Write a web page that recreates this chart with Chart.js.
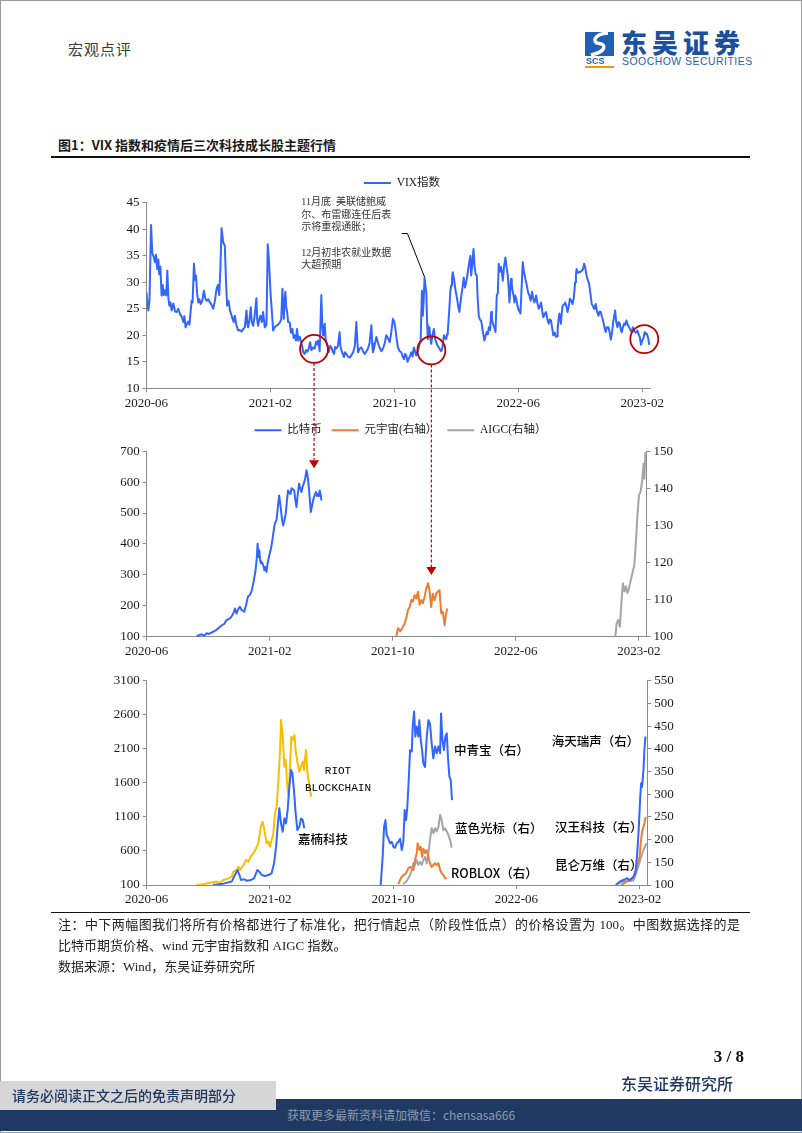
<!DOCTYPE html>
<html>
<head>
<meta charset="utf-8">
<script src="https://cdn.jsdelivr.net/npm/chart.js@4.4.0/dist/chart.umd.min.js"></script>
<style>
  body { margin: 0; background: #fff; }
  #page { position: relative; width: 802px; height: 1133px; overflow: hidden; background: #fff;
          font-family: "Noto Sans CJK SC", sans-serif; }
  #page canvas, #page div { position: absolute; }
  .frame { left: 0; top: 0; width: 800px; height: 1131px; border: 1px solid #9a9a9a; }
  .hdr { left: 68px; top: 39px; font-size: 15px; line-height: 20px; color: #3a3a3a; letter-spacing: 1px; }
  .logo-cn { left: 621px; top: 28px; font-size: 26px; line-height: 28px; font-weight: 900; color: #1d4f9f; letter-spacing: 5px; }
  .logo-en { left: 622px; top: 55px; font-family: "Liberation Sans", sans-serif; font-size: 10.5px; line-height: 12px; color: #2b5fae; letter-spacing: 0.45px; }
  .fig-title { left: 58px; top: 136px; font-size: 13px; line-height: 18px; font-weight: 700; color: #1a1a1a; }
  .rule { left: 51px; width: 699px; background: #111; }
  .note { left: 58px; width: 682px; font-size: 13px; line-height: 18px; color: #222;
          font-family: "Liberation Serif", "Noto Sans CJK SC", serif; }
  .page-no { left: 690px; width: 54px; top: 1047px; text-align: right; font-family: "Liberation Serif", serif; font-weight: 700; font-size: 17px; color: #111; }
  .house { left: 621px; top: 1072px; font-size: 16px; line-height: 22px; color: #1f3864; font-weight: 500; }
  .band { left: 0; top: 1099px; width: 802px; height: 32px; background: #1e3a63; }
  .band-text { left: 0; width: 802px; top: 1107px; text-align: center; font-size: 12px; line-height: 16px; color: #8e9bb0; }
  .disclaimer { left: 0; top: 1081px; width: 276px; height: 29px; background: #d6d6d6; }
  .disclaimer-text { left: 12px; top: 1081px; font-size: 14px; line-height: 29px; color: #1f3864; font-weight: 500; }
</style>
</head>
<body>
<div id="page">
  <div class="frame"></div>
  <div class="hdr">宏观点评</div>
  <canvas id="logoIcon" width="34" height="38" style="left:584px;top:31px"></canvas>
  <div class="logo-cn">东吴证券</div>
  <div class="logo-en">SOOCHOW SECURITIES</div>
  <div class="fig-title">图1：VIX 指数和疫情后三次科技成长股主题行情</div>
  <div class="rule" style="top:156px;height:2px"></div>

  <canvas id="vixChart" width="640" height="252" style="left:80px;top:166px"></canvas>
  <canvas id="cryptoChart" width="640" height="258" style="left:80px;top:408px"></canvas>
  <canvas id="stockChart" width="640" height="252" style="left:80px;top:662px"></canvas>
  <canvas id="overlay" width="802" height="1133" style="left:0;top:0;pointer-events:none"></canvas>

  <div class="rule" style="top:912px;height:1px"></div>
  <div class="note" style="top:916px;text-align:justify;text-align-last:justify">注：中下两幅图我们将所有价格都进行了标准化，把行情起点（阶段性低点）的价格设置为 100。中图数据选择的是</div>
  <div class="note" style="top:937px">比特币期货价格、wind 元宇宙指数和 AIGC 指数。</div>
  <div class="note" style="top:958px">数据来源：Wind，东吴证券研究所</div>

  <div class="page-no">3 / 8</div>
  <div class="house">东吴证券研究所</div>
  <div class="band"></div>
  <div class="band-text">获取更多最新资料请加微信：chensasa666</div>
  <div class="disclaimer"></div>
  <div class="disclaimer-text">请务必阅读正文之后的免责声明部分</div>
</div>

<script>
// x values are months counted from 2020-06
var monthTicks = [0, 8, 16, 24, 32];
var monthLabels = ['2020-06', '2021-02', '2021-10', '2022-06', '2023-02'];

// top chart: VIX index
var vix = [[0,28.1],[0.12,24.7],[0.2,26.5],[0.3,40.8],[0.38,35.5],[0.45,35],[0.55,33.8],[0.62,35.2],[0.7,32.5],[0.77,34.3],[0.83,31.5],[0.9,33],[0.98,27.5],[1.05,29.5],[1.12,27.6],[1.2,28.5],[1.28,27.5],[1.35,32.2],[1.42,27],[1.48,25.6],[1.55,26.2],[1.63,24.7],[1.74,26],[1.85,24.5],[1.95,24.4],[2.06,25],[2.17,24],[2.28,23.5],[2.38,22.5],[2.45,23.6],[2.53,21.5],[2.62,22.2],[2.7,22.6],[2.78,22],[2.85,24.4],[2.92,26.5],[2.98,26.2],[3.07,33.5],[3.14,30.5],[3.2,31.3],[3.27,28],[3.35,26.2],[3.42,26.8],[3.5,25.9],[3.6,26.5],[3.71,28.4],[3.8,27],[3.88,26.5],[4,26.8],[4.1,26.2],[4.2,25.8],[4.31,25],[4.42,26.5],[4.53,28.8],[4.62,29.5],[4.7,27.6],[4.78,33],[4.85,40.2],[4.92,38.5],[4.96,37.5],[5.06,36.9],[5.14,30],[5.21,25.6],[5.3,26.5],[5.39,24.7],[5.47,24],[5.56,23.1],[5.64,22.5],[5.71,23.7],[5.8,22],[5.92,20.9],[6.02,21],[6.14,20.7],[6.25,21.2],[6.35,21.5],[6.46,24.7],[6.52,22],[6.57,21.5],[6.65,23],[6.74,25.3],[6.8,22.5],[6.89,21.8],[6.98,23.5],[7.1,27],[7.15,23],[7.21,21.8],[7.28,23],[7.36,23.7],[7.45,22.5],[7.53,24.4],[7.64,21.5],[7.75,22],[7.83,37.2],[7.9,34.5],[7.96,31],[8.02,27.5],[8.07,25.6],[8.18,20.9],[8.28,21.5],[8.39,21.8],[8.5,22],[8.61,22.4],[8.7,23],[8.78,28.8],[8.83,25],[8.87,23.1],[8.92,26.5],[8.97,28.2],[9.02,25.5],[9.08,24.4],[9.15,22.5],[9.25,22.4],[9.33,20.5],[9.42,21.2],[9.5,19.5],[9.57,20],[9.65,19],[9.72,21.2],[9.8,19],[9.9,19.7],[10,18.5],[10.05,18],[10.12,16.8],[10.22,16.5],[10.3,17.2],[10.38,16.9],[10.48,17.5],[10.56,18.7],[10.65,17.2],[10.75,17.7],[10.86,17.5],[10.95,18.8],[11.02,18.3],[11.08,19],[11.18,17],[11.29,27.6],[11.35,22],[11.4,20],[11.46,21.5],[11.51,22.2],[11.56,19.5],[11.61,18.7],[11.7,17.8],[11.77,16.8],[11.86,18],[11.94,17.7],[12.02,17],[12.11,16.5],[12.18,17.8],[12.26,17.5],[12.36,18],[12.47,20.6],[12.52,18],[12.58,17.2],[12.67,16.5],[12.75,15.9],[12.82,16.8],[12.9,16.5],[13,16],[13.12,15.8],[13.22,16.2],[13.34,16.8],[13.45,18],[13.55,22.5],[13.6,19.5],[13.66,16.8],[13.76,17.5],[13.87,17.7],[13.98,17],[14.09,16.5],[14.2,17],[14.3,17.5],[14.4,18.5],[14.52,21.9],[14.57,18.5],[14.62,16.8],[14.72,18],[14.84,19.7],[14.95,18.5],[15.05,17.7],[15.16,17],[15.27,17.5],[15.38,18.5],[15.48,20],[15.58,19.5],[15.7,18.7],[15.8,20.5],[15.91,23.1],[16,22.5],[16.06,21.5],[16.14,19.5],[16.23,17.7],[16.34,17],[16.45,16.8],[16.54,16],[16.62,15.5],[16.7,16.5],[16.77,16.2],[16.85,15],[16.92,15.5],[17,16],[17.09,16.8],[17.18,16],[17.26,17.7],[17.34,17],[17.41,16.2],[17.52,17],[17.63,18.4],[17.7,19],[17.78,28.4],[17.84,23.7],[17.9,27],[17.95,30.9],[18,29.5],[18.06,28.2],[18.12,22],[18.16,19.3],[18.22,20.5],[18.27,21.5],[18.32,19.5],[18.38,18.4],[18.46,20],[18.55,21.2],[18.62,19.5],[18.7,18.7],[18.8,18],[18.92,17.5],[19,17],[19.07,17.2],[19.14,18.5],[19.2,20],[19.27,19.5],[19.35,19.3],[19.4,20.2],[19.45,20.6],[19.55,25],[19.62,28.5],[19.67,29.4],[19.72,30.5],[19.77,31.9],[19.83,31],[19.88,30],[19.95,28.5],[20.05,26.9],[20.12,25.5],[20.2,24.4],[20.28,26.5],[20.36,28.2],[20.42,29.5],[20.48,30.9],[20.56,29],[20.64,30],[20.74,31.9],[20.82,33.5],[20.91,35],[20.96,31.3],[21.02,33],[21.11,36.3],[21.18,33],[21.24,31.6],[21.32,31.3],[21.38,27],[21.45,23.7],[21.52,23],[21.6,22.8],[21.7,21],[21.81,19],[21.9,20],[21.97,20.6],[22.03,20.2],[22.1,21.5],[22.18,21],[22.25,24.4],[22.3,23],[22.36,22.2],[22.45,21.5],[22.53,20.6],[22.61,27.5],[22.68,28],[22.74,33.5],[22.8,32],[22.89,32.9],[22.95,31.5],[23,30.3],[23.08,33],[23.17,34.7],[23.24,33],[23.32,31.3],[23.38,29],[23.43,26.2],[23.48,28.5],[23.53,30.6],[23.58,29.5],[23.64,28.2],[23.7,27.5],[23.75,26.2],[23.8,27.5],[23.86,27],[23.95,25.5],[24.03,24.7],[24.08,24.5],[24.14,24.1],[24.2,28],[24.29,33.8],[24.34,32.5],[24.39,31.6],[24.47,30.5],[24.55,29.4],[24.64,28],[24.72,27.5],[24.8,26.5],[24.89,28.2],[24.96,27],[25.04,26.2],[25.1,26.8],[25.15,27.5],[25.24,26],[25.32,25],[25.4,25.5],[25.47,26.2],[25.55,24.5],[25.62,23.4],[25.7,24],[25.79,24.4],[25.88,23],[25.96,22.2],[26.04,23],[26.11,22.8],[26.18,21.5],[26.26,20],[26.35,20.5],[26.43,19.7],[26.5,19.8],[26.54,21.2],[26.6,23],[26.65,24.1],[26.7,23.5],[26.75,22.2],[26.8,24],[26.86,25.6],[26.95,25.8],[27.03,26.2],[27.1,25.5],[27.18,24.4],[27.26,25.5],[27.33,26.9],[27.42,26.5],[27.5,25.9],[27.58,27],[27.67,30],[27.72,31.5],[27.76,32.5],[27.85,31.8],[27.93,31.9],[28.02,32],[28.1,32.2],[28.18,32.5],[28.25,33.5],[28.32,32.8],[28.4,31.3],[28.48,30.5],[28.57,29.7],[28.65,28],[28.74,25.9],[28.82,25.5],[28.89,25],[28.95,25.5],[29,25.9],[29.08,24.5],[29.17,23.7],[29.25,24.5],[29.32,24.4],[29.4,23.5],[29.47,22.8],[29.56,21.5],[29.64,20.6],[29.72,21.5],[29.82,21.5],[29.9,20.5],[29.97,19.2],[30.05,20.5],[30.12,22.4],[30.18,23.5],[30.25,24.7],[30.32,22.5],[30.4,21.5],[30.48,22.5],[30.55,22.2],[30.62,21],[30.68,20.6],[30.75,21.5],[30.83,22.2],[30.9,22],[30.98,22.8],[31.06,22],[31.15,21.5],[31.24,21],[31.32,20.6],[31.4,21.5],[31.47,20.9],[31.58,20.5],[31.69,20.9],[31.76,20.2],[31.84,19.7],[31.92,18.2],[32,19],[32.08,19.5],[32.16,20.6],[32.24,20.2],[32.3,20.3],[32.38,19.5],[32.45,18.2]];

// middle chart: normalised to 100 at each rally's start
var bitcoin = [[3.24,100],[3.4,105],[3.57,108],[3.7,104],[3.8,106],[3.9,111],[4.05,109],[4.2,113],[4.33,116],[4.5,121],[4.62,126],[4.76,132],[4.9,137],[5.05,142],[5.19,154],[5.3,156],[5.41,159],[5.52,166],[5.63,175],[5.74,191],[5.84,175],[5.95,189],[6.06,197],[6.17,186],[6.25,184],[6.34,181],[6.45,200],[6.58,229],[6.69,234],[6.8,245],[6.9,265],[6.97,283],[7.08,315],[7.16,355],[7.21,401],[7.27,358],[7.32,380],[7.38,345],[7.43,337],[7.5,340],[7.58,331],[7.65,315],[7.71,325],[7.79,310],[7.86,337],[8,369],[8.1,390],[8.17,412],[8.25,440],[8.33,466],[8.44,477],[8.53,520],[8.61,557],[8.71,519],[8.8,480],[8.87,460],[8.95,475],[9.04,498],[9.12,540],[9.19,573],[9.27,565],[9.35,562],[9.42,580],[9.48,578],[9.59,573],[9.66,545],[9.74,519],[9.82,560],[9.91,595],[9.98,580],[10.06,568],[10.14,585],[10.21,595],[10.3,610],[10.39,638],[10.45,625],[10.52,595],[10.6,550],[10.67,503],[10.74,520],[10.82,541],[10.9,555],[11,568],[11.07,555],[11.14,562],[11.2,555],[11.25,573],[11.31,560],[11.36,541]];
var metaverse = [[16.23,100.2],[16.34,102.3],[16.49,101.5],[16.62,102.3],[16.77,103.6],[16.88,105],[16.99,107.2],[17.1,108],[17.21,109.9],[17.31,109.5],[17.42,111.2],[17.53,110.3],[17.64,112.1],[17.75,108.6],[17.86,109.9],[17.96,109],[18.07,110.8],[18.18,113],[18.29,114.4],[18.39,112.5],[18.5,108],[18.61,111.6],[18.72,109.9],[18.83,111.6],[18.93,112.1],[19.04,112.5],[19.15,106.3],[19.26,106.7],[19.37,103.1],[19.47,106.3],[19.54,107.6]];
var aigc = [[30.47,100],[30.56,103.6],[30.66,104.5],[30.77,102.7],[30.86,108.5],[30.96,114.4],[31.07,112.2],[31.16,113.6],[31.26,111.8],[31.36,113.1],[31.46,114.9],[31.56,116.7],[31.71,119.3],[31.81,125.5],[31.91,132.7],[32.01,138.1],[32.11,139],[32.21,141.7],[32.31,146.6],[32.36,142.6],[32.43,149.7]];

// bottom chart: single stocks
var riot = [[3.24,100],[3.68,110],[4.11,134],[4.54,150],[4.76,134],[4.98,173],[5.3,197],[5.52,222],[5.62,295],[5.84,320],[5.95,369],[6.06,320],[6.28,393],[6.45,467],[6.6,442],[6.75,516],[6.92,565],[7.1,638],[7.25,712],[7.4,956],[7.53,1029],[7.64,907],[7.79,712],[7.9,736],[8.01,663],[8.11,760],[8.22,858],[8.33,1152],[8.44,1250],[8.55,1641],[8.66,2082],[8.72,2522],[8.83,2277],[8.94,1837],[9.02,1935],[9.13,1543],[9.22,1396],[9.3,1837],[9.39,2277],[9.48,2228],[9.59,2301],[9.69,2032],[9.8,1886],[9.91,1763],[10.02,1837],[10.13,1910],[10.21,1788],[10.34,2082],[10.43,1763],[10.56,1543],[10.69,1396]];
var canaan = [[4.3,100],[4.98,120],[5.52,150],[5.73,247],[5.9,320],[6.02,247],[6.12,173],[6.32,183],[6.53,163],[6.75,173],[6.97,197],[7.18,320],[7.31,295],[7.47,247],[7.68,232],[7.9,247],[8.11,271],[8.27,418],[8.4,663],[8.5,956],[8.61,1226],[8.72,1005],[8.83,883],[8.94,1078],[9.04,1005],[9.15,1201],[9.26,1543],[9.37,1788],[9.46,1739],[9.56,1494],[9.67,1152],[9.78,907],[9.91,956],[10.02,1078],[10.13,1054],[10.23,932]];
var zqb = [[15.19,100],[15.32,162],[15.41,228],[15.5,243],[15.58,210],[15.69,202],[15.8,192],[15.91,195],[16.02,184],[16.12,182],[16.23,192],[16.34,195],[16.45,202],[16.56,177],[16.66,195],[16.75,265],[16.84,243],[16.92,272],[17.01,331],[17.1,397],[17.21,394],[17.27,449],[17.36,482],[17.44,427],[17.53,449],[17.64,427],[17.7,463],[17.79,420],[17.88,397],[17.96,368],[18.07,360],[18.18,427],[18.29,463],[18.39,456],[18.5,412],[18.61,379],[18.72,405],[18.83,390],[18.94,405],[19.05,390],[19.11,478],[19.2,420],[19.3,397],[19.39,427],[19.48,434],[19.57,375],[19.65,339],[19.74,331],[19.82,287]];
var roblox = [[16.34,102],[16.45,111],[16.56,118],[16.66,122],[16.77,124],[16.88,129],[16.99,137],[17.1,140],[17.21,137],[17.31,133],[17.42,155],[17.53,170],[17.59,192],[17.7,177],[17.79,184],[17.88,162],[17.96,180],[18.07,170],[18.18,177],[18.29,162],[18.39,148],[18.5,140],[18.61,144],[18.72,148],[18.83,144],[18.94,148],[19.05,133],[19.15,126],[19.26,122],[19.37,115],[19.48,114]];
var bluefocus = [[16.66,102],[16.88,109],[17.1,122],[17.21,133],[17.31,148],[17.42,144],[17.53,155],[17.64,144],[17.75,151],[17.86,144],[17.96,155],[18.07,162],[18.18,148],[18.29,170],[18.39,199],[18.5,225],[18.61,214],[18.72,225],[18.83,218],[18.94,228],[19.05,254],[19.15,243],[19.26,221],[19.37,225],[19.48,218],[19.59,210],[19.7,199],[19.8,182]];
var haitian = [[30.45,100],[30.6,104],[30.75,108],[30.95,111],[31.1,113],[31.17,115],[31.3,112],[31.38,111],[31.5,114],[31.6,118],[31.7,125],[31.77,140],[31.86,177],[31.95,228],[32.03,287],[32.1,324],[32.16,316],[32.25,353],[32.31,397],[32.38,427]];
var hanwang = [[30.8,100],[31,104],[31.17,108],[31.4,112],[31.6,118],[31.68,125],[31.77,133],[31.9,150],[32,162],[32.07,192],[32.16,217],[32.25,228],[32.31,236],[32.4,250]];
var kunlun = [[30.52,102],[30.7,105],[30.95,108],[31.17,108],[31.4,109],[31.6,110],[31.77,125],[31.95,144],[32.1,162],[32.25,177],[32.35,184],[32.42,192]];

// annotation anchors (month, value)
var circleMonths = [10.82, 18.39, 32.13];
var circleValues = [17.43, 17.15, 19.28];
var arrowValues = [645, 116.6];      // where the red arrows land in the middle chart
var arrowAxes = ['y', 'y1'];
var leaderPath = [[16.47, 39.2], [16.85, 39.2], [17.95, 31.0]];
var noteAnchor = [10.0, 45.1];
var noteLines = ['11月底  美联储鲍威', '尔、布雷娜连任后表', '示将重视通胀；', '', '12月初非农就业数据', '大超预期'];
var stockTags = [
  ['RIOT', 12.42, 1773, 'y', 'mono'],
  ['BLOCKCHAIN', 12.42, 1524, 'y', 'mono'],
  ['嘉楠科技', 9.82, 775, 'y'],
  ['中青宝（右）', 19.95, 397, 'y1'],
  ['蓝色光标（右）', 20.02, 226, 'y1'],
  ['ROBLOX（右）', 19.76, 126, 'y1'],
  ['海天瑞声（右）', 26.29, 417, 'y1'],
  ['汉王科技（右）', 26.51, 228, 'y1'],
  ['昆仑万维（右）', 26.51, 144, 'y1']
];

var BLUE = '#3366ff', ORANGE = '#ed7d31', GRAY = '#a5a5a5', GOLD = '#f9be00', RED = '#c00000';
var AXIS = '#8c8c8c', INK = '#1a1a1a';
var SERIF = '"Liberation Serif", "Noto Sans CJK SC", serif';
var tickFont = { family: SERIF, size: 13 };
var CIRCLE_R = 14;

Chart.defaults.font.family = SERIF;
Chart.defaults.animation = false;

function lineSet(label, rows, color, axis) {
  return {
    label: label,
    data: rows.map(function(r) { return { x: r[0], y: r[1] }; }),
    borderColor: color, backgroundColor: color,
    borderWidth: 2, pointRadius: 0, tension: 0,
    borderJoinStyle: 'round', yAxisID: axis
  };
}

function monthAxis() {
  return {
    type: 'linear', min: 0, max: 32.5,
    afterBuildTicks: function(s) { s.ticks = monthTicks.map(function(v) { return { value: v }; }); },
    afterFit: function(s) { s.height = 26; },
    grid: { drawOnChartArea: false, tickLength: 4, color: AXIS },
    border: { color: AXIS },
    ticks: {
      autoSkip: false, maxRotation: 0, padding: 3, color: INK, font: tickFont,
      callback: function(v) { return monthLabels[monthTicks.indexOf(v)]; }
    }
  };
}

function valueAxis(pos, min, max, step, width) {
  return {
    type: 'linear', position: pos, min: min, max: max,
    afterFit: function(s) { s.width = width; },
    grid: { drawOnChartArea: false, tickLength: 4, color: AXIS },
    border: { color: AXIS },
    ticks: {
      stepSize: step, padding: 3, color: INK, font: tickFont,
      callback: function(v) { return String(v); }
    }
  };
}

function legendOpts() {
  return {
    display: true, position: 'top',
    labels: {
      usePointStyle: true, pointStyle: 'line', pointStyleWidth: 27,
      padding: 10, color: INK, font: { family: SERIF, size: 11.5 }
    }
  };
}

// moves the built-in legend without changing the plot area
var legendNudge = {
  id: 'legendNudge',
  afterLayout: function(chart, args, opts) {
    var lg = chart.legend;
    if (!lg || !opts) return;
    lg.left += opts.dx || 0; lg.right += opts.dx || 0;
    lg.top += opts.dy || 0; lg.bottom += opts.dy || 0;
  }
};

var vixNotes = {
  id: 'vixNotes',
  afterDraw: function(chart) {
    var ctx = chart.ctx, x = chart.scales.x, y = chart.scales.y;
    ctx.save();
    ctx.strokeStyle = RED;
    ctx.lineWidth = 1.8;
    circleMonths.forEach(function(m, i) {
      ctx.beginPath();
      ctx.arc(x.getPixelForValue(m), y.getPixelForValue(circleValues[i]), CIRCLE_R, 0, Math.PI * 2);
      ctx.stroke();
    });
    ctx.strokeStyle = '#000';
    ctx.lineWidth = 1;
    ctx.beginPath();
    leaderPath.forEach(function(p, i) {
      var px = x.getPixelForValue(p[0]), py = y.getPixelForValue(p[1]);
      if (i) ctx.lineTo(px, py); else ctx.moveTo(px, py);
    });
    ctx.stroke();
    ctx.fillStyle = '#333';
    ctx.font = '10px ' + SERIF;
    ctx.textBaseline = 'middle';
    var tx = x.getPixelForValue(noteAnchor[0]), ty = y.getPixelForValue(noteAnchor[1]);
    noteLines.forEach(function(t, i) { ctx.fillText(t, tx, ty + i * 12.7); });
    ctx.restore();
  }
};

var stockNotes = {
  id: 'stockNotes',
  afterDraw: function(chart) {
    var ctx = chart.ctx;
    ctx.save();
    ctx.fillStyle = '#000';
    ctx.textBaseline = 'middle';
    stockTags.forEach(function(t) {
      var mono = t[4] === 'mono';
      ctx.font = mono ? '11px "Liberation Mono", monospace' : '500 12.5px "Noto Sans CJK SC", sans-serif';
      ctx.textAlign = mono ? 'center' : 'left';
      ctx.fillText(t[0], chart.scales.x.getPixelForValue(t[1]), chart.scales[t[3]].getPixelForValue(t[2]));
    });
    ctx.restore();
  }
};

var vixChart = new Chart(document.getElementById('vixChart'), {
  type: 'line',
  data: { datasets: [ lineSet('VIX指数', vix, BLUE, 'y') ] },
  options: {
    responsive: false,
    layout: { padding: { left: 20.4, right: 70, top: 5.3, bottom: 3.7 } },
    scales: { x: monthAxis(), y: valueAxis('left', 10, 45, 5, 46) },
    plugins: { legend: legendOpts(), tooltip: { enabled: false }, legendNudge: { dx: 26.8, dy: -4.1 } }
  },
  plugins: [legendNudge, vixNotes]
});

var cryptoChart = new Chart(document.getElementById('cryptoChart'), {
  type: 'line',
  data: { datasets: [
    lineSet('比特币', bitcoin, BLUE, 'y'),
    lineSet('元宇宙(右轴）', metaverse, ORANGE, 'y1'),
    lineSet('AIGC(右轴）', aigc, GRAY, 'y1')
  ] },
  options: {
    responsive: false,
    layout: { padding: { left: 20.7, right: 33.5, top: 11.7, bottom: 3.3 } },
    scales: {
      x: monthAxis(),
      y: valueAxis('left', 100, 700, 100, 46),
      y1: valueAxis('right', 100, 150, 5, 40)
    },
    plugins: { legend: legendOpts(), tooltip: { enabled: false }, legendNudge: { dx: 6.9, dy: -5.2 } }
  },
  plugins: [legendNudge]
});

var stockChart = new Chart(document.getElementById('stockChart'), {
  type: 'line',
  data: { datasets: [
    lineSet('嘉楠科技', canaan, BLUE, 'y'),
    lineSet('中青宝', zqb, BLUE, 'y1'),
    lineSet('海天瑞声', haitian, BLUE, 'y1'),
    lineSet('ROBLOX', roblox, ORANGE, 'y1'),
    lineSet('汉王科技', hanwang, ORANGE, 'y1'),
    lineSet('蓝色光标', bluefocus, GRAY, 'y1'),
    lineSet('昆仑万维', kunlun, GRAY, 'y1'),
    lineSet('RIOT BLOCKCHAIN', riot, GOLD, 'y')
  ] },
  options: {
    responsive: false,
    layout: { padding: { left: 20.7, right: 32.7, top: 18.7, bottom: 3 } },
    scales: {
      x: monthAxis(),
      y: valueAxis('left', 100, 3100, 500, 46),
      y1: valueAxis('right', 100, 550, 50, 40)
    },
    plugins: { legend: { display: false }, tooltip: { enabled: false } }
  },
  plugins: [stockNotes]
});

// red dashed links from the VIX circles down to the middle chart
(function drawLinks() {
  var ctx = document.getElementById('overlay').getContext('2d');
  var top = vixChart.canvas, mid = cryptoChart.canvas;
  ctx.strokeStyle = RED;
  ctx.fillStyle = RED;
  ctx.lineWidth = 1.2;
  arrowValues.forEach(function(v, i) {
    var x = top.offsetLeft + vixChart.scales.x.getPixelForValue(circleMonths[i]);
    var y0 = top.offsetTop + vixChart.scales.y.getPixelForValue(circleValues[i]) + CIRCLE_R;
    var y1 = mid.offsetTop + cryptoChart.scales[arrowAxes[i]].getPixelForValue(v);
    ctx.setLineDash([3, 2]);
    ctx.beginPath();
    ctx.moveTo(x, y0);
    ctx.lineTo(x, y1 - 8);
    ctx.stroke();
    ctx.setLineDash([]);
    ctx.beginPath();
    ctx.moveTo(x - 5, y1 - 8);
    ctx.lineTo(x + 5, y1 - 8);
    ctx.lineTo(x, y1);
    ctx.closePath();
    ctx.fill();
  });
})();

// company logo mark
(function drawLogo() {
  var ctx = document.getElementById('logoIcon').getContext('2d');
  ctx.fillStyle = '#1f5fb4';
  ctx.fillRect(1, 1, 29, 24);
  ctx.strokeStyle = '#fff';
  ctx.lineWidth = 3.5;
  ctx.beginPath();
  ctx.moveTo(24, 2);
  ctx.bezierCurveTo(9, 3, 8, 12, 15, 12.5);
  ctx.bezierCurveTo(23, 13, 22, 21, 7, 24);
  ctx.stroke();
  ctx.fillStyle = '#1f5fb4';
  ctx.font = 'bold 9px "Liberation Sans", sans-serif';
  ctx.fillText('SCS', 2, 33);
  ctx.fillStyle = '#f39800';
  ctx.fillRect(1, 35, 29, 2);
})();
</script>
</body>
</html>
